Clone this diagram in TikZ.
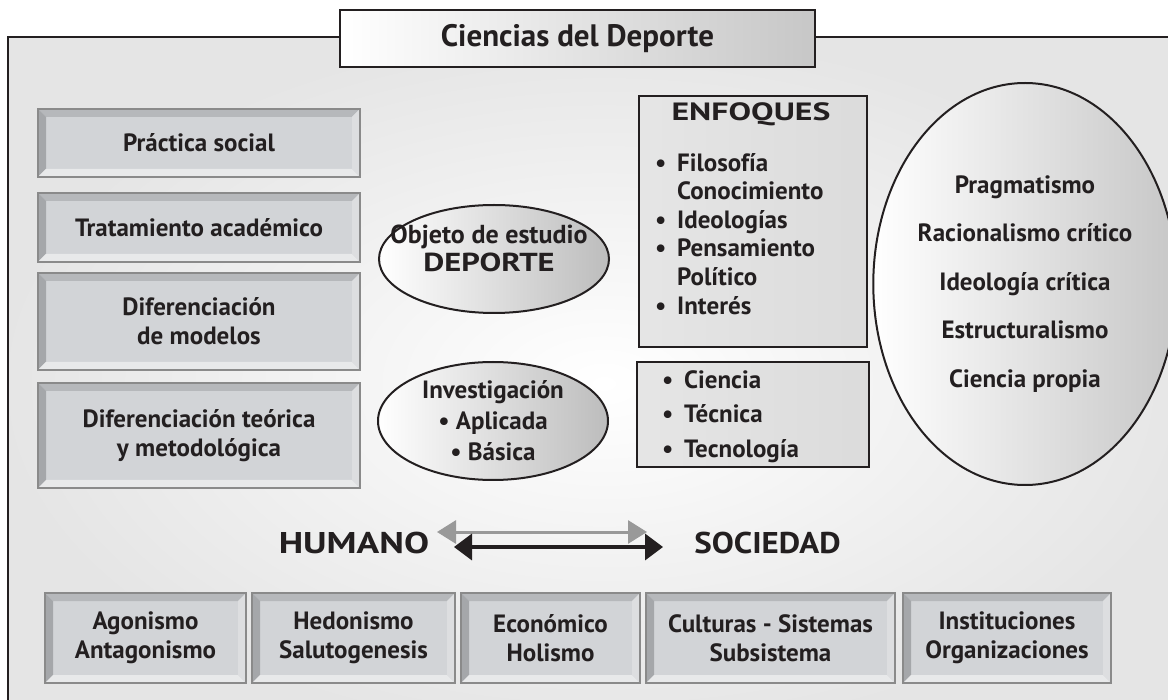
\documentclass[tikz,border=0pt]{standalone}
\usepackage{fontspec}
\usepackage{graphicx}
\setmainfont{PT Sans}
\usetikzlibrary{arrows.meta,calc,shapes.geometric,positioning}
\definecolor{ink}{HTML}{231F20}
\definecolor{bvface}{HTML}{D2D4D7}
\definecolor{bvtop}{HTML}{B6B8BB}
\definecolor{bvleft}{HTML}{A5A7AA}
\definecolor{bvbot}{HTML}{E8E9EA}
\definecolor{bvright}{HTML}{DDDEE0}
\definecolor{bvedge}{HTML}{8A8A8A}
\newcommand\txtfont{\fontsize{25}{29}\selectfont\bfseries}
\newcommand\itm{\makebox[22pt][l]{\textbullet}}
\newcommand\capsw[2][1.3]{\scalebox{#1}[1]{#2}}
\tikzset{
  bevel/.style = {rectangle, draw=bvedge, line width=2pt, fill=bvface, text=ink,
                  align=center, font=\txtfont, inner sep=0pt,
                  path picture={
                    \path (path picture bounding box.south west) coordinate (bvsw)
                          (path picture bounding box.north east) coordinate (bvne);
                    \fill[bvtop] (bvsw|-bvne) -- (bvne) -- ($(bvne)+(-8pt,-8pt)$)
                                 -- ($(bvsw|-bvne)+(8pt,-8pt)$) -- cycle;
                    \fill[bvleft] (bvsw|-bvne) -- (bvsw) -- ($(bvsw)+(8pt,8pt)$)
                                 -- ($(bvsw|-bvne)+(8pt,-8pt)$) -- cycle;
                    \fill[bvbot] (bvsw) -- (bvne|-bvsw) -- ($(bvne|-bvsw)+(-8pt,8pt)$)
                                 -- ($(bvsw)+(8pt,8pt)$) -- cycle;
                    \fill[bvright] (bvne) -- (bvne|-bvsw) -- ($(bvne|-bvsw)+(-8pt,8pt)$)
                                 -- ($(bvne)+(-8pt,-8pt)$) -- cycle;
                  }},
  plainbox/.style = {rectangle, draw=ink, line width=2pt, inner sep=0pt,
                  left color=black!10, middle color=white, right color=black!14},
  titlebox/.style = {rectangle, draw=ink, line width=2pt, inner sep=0pt, text=ink,
                  font=\fontsize{31}{36}\selectfont\bfseries, left color=white, right color=black!22},
  oval/.style   = {ellipse, draw=ink, line width=2pt, inner sep=0pt, text=ink,
                  align=center, left color=white, middle color=black!6, right color=black!26},
  txt/.style    = {text=ink, font=\txtfont, inner sep=0pt, align=center},
  big/.style    = {text=ink, font=\fontsize{30}{34}\selectfont\bfseries, inner sep=0pt},
  dbl/.style    = {{Triangle[length=18pt,width=26pt]}-{Triangle[length=18pt,width=26pt]},
                  line width=3.5pt, ink},
  dblg/.style   = {{Triangle[length=19pt,width=23pt]}-{Triangle[length=19pt,width=23pt]},
                  black!40, line width=3pt},
}
\begin{document}
\begin{tikzpicture}[x=1pt,y=-1pt]
  \clip (0,0) rectangle (1168,700);

  % marco
  \shade[inner color=white, outer color=black!10] (8,37) rectangle (1200,730);
  \draw[line width=2.5pt, ink] (1200,37) -- (8,37) -- (8,730);
  \node[titlebox, minimum width=475pt, minimum height=57pt] (titulo) at (577.5,38.5) {Ciencias del Deporte};

  % columna izquierda
  \node[bevel, minimum width=322pt, minimum height=68pt] (practica) at (199,143) {Práctica social};
  \node[bevel, minimum width=322pt, minimum height=69pt] (tratam) at (199,227.5) {Tratamiento académico};
  \node[bevel, minimum width=322pt, minimum height=97pt] (difmod) at (199,321.5) {Diferenciación\\ de modelos};
  \node[bevel, minimum width=322pt, minimum height=105pt] (difteo) at (199,435.5) {Diferenciación teórica\\ y metodológica};

  % centro
  \node[oval, minimum width=230pt, minimum height=108pt] (objeto) at (494,259) {};
  \node[txt, font=\fontsize{26}{28}\selectfont\bfseries] (objtxt) at (489,248) {Objeto de estudio\\ \capsw[1.25]{DEPORTE}};
  \node[oval, minimum width=230pt, minimum height=118pt, font=\fontsize{25}{31}\selectfont\bfseries] (investig) at (493,421) {Investigación\\ \textbullet\ Aplicada\\ \textbullet\ Básica};

  % enfoques
  \node[plainbox, minimum width=228pt, minimum height=251pt] (enfoques) at (753,221.5) {};
  \node[txt] (enftit) at (751,114) {\capsw[1.35]{ENFOQUES}};
  \node[txt, align=left, anchor=north west, font=\fontsize{25}{28.6}\selectfont\bfseries] (enflist) at (655,153)
    {\itm Filosofía\\ \hphantom{\itm}Conocimiento\\ \itm Ideologías\\ \itm Pensamiento\\ \hphantom{\itm}Político\\ \itm Interés};
  \node[plainbox, minimum width=232pt, minimum height=105pt] (ciencia) at (753,414.5) {};
  \node[txt, align=left, anchor=north west, font=\fontsize{25}{34.5}\selectfont\bfseries] (cienlist) at (662,370)
    {\itm Ciencia\\ \itm Técnica\\ \itm Tecnología};

  % elipse derecha
  \node[oval, minimum width=256pt, minimum height=402pt, middle color=white, right color=black!22,
        font=\fontsize{25}{48.5}\selectfont\bfseries] (corrientes) at (1025,284)
    {Pragmatismo\\ Racionalismo crítico\\ Ideología crítica\\ Estructuralismo\\ Ciencia propia};

  % humano - sociedad
  \node[big] (humano) at (354,543) {\capsw[1.25]{HUMANO}};
  \node[big] (sociedad) at (767.5,543) {\capsw[1.1]{SOCIEDAD}};
  \coordinate (ga) at (437,532);
  \coordinate (gb) at (647,532);
  \coordinate (na) at (454,547);
  \coordinate (nb) at (663,547);
  \draw[dblg] (ga) -- (gb);
  \draw[dbl] (na) -- (nb);

  % fila inferior
  \node[bevel, minimum width=201pt, minimum height=90pt] (agon) at (145.5,638) {Agonismo\\ Antagonismo};
  \node[bevel, minimum width=203pt, minimum height=90pt] (hedon) at (353.5,638) {Hedonismo\\ Salutogenesis};
  \node[bevel, minimum width=179pt, minimum height=90pt] (econ) at (550.5,638) {Económico\\ Holismo};
  \node[bevel, minimum width=249pt, minimum height=90pt] (cultur) at (770.5,638) {Culturas - Sistemas\\ Subsistema};
  \node[bevel, minimum width=208pt, minimum height=90pt] (instit) at (1007,638) {Instituciones\\ Organizaciones};
\end{tikzpicture}
\end{document}
